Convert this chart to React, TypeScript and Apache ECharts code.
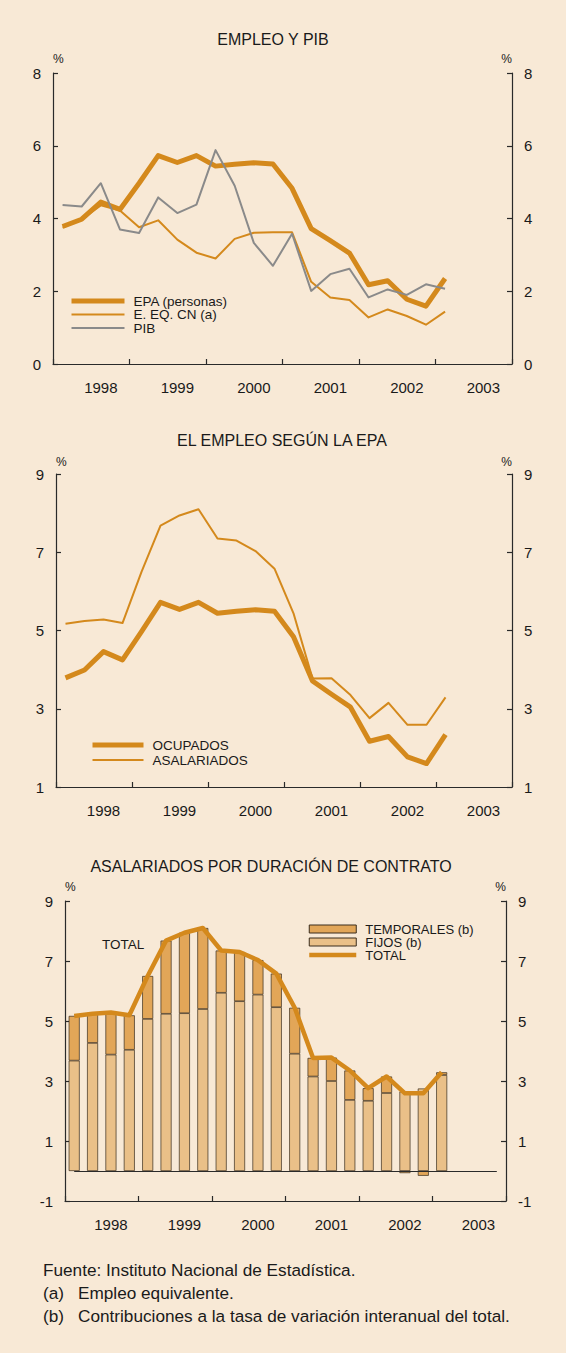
import React, { useEffect, useRef } from 'react';
import * as echarts from 'echarts';

// ---------- DATA ----------
const years = ['1998', '1999', '2000', '2001', '2002', '2003'];
const quarters = ['I', 'II', 'III', 'IV'];
const categories = years.flatMap((y) => quarters.map((q) => `${q} ${y}`));

// Chart 1: EMPLEO Y PIB (1998 I - 2003 I)
const epaPersonas = [3.78, 3.98, 4.45, 4.25, 4.97, 5.73, 5.54, 5.73, 5.44, 5.49, 5.53, 5.5, 4.83, 3.72, 3.39, 3.05, 2.18, 2.29, 1.78, 1.59, 2.35];
const eEqCn = [3.75, 3.98, 4.36, 4.22, 3.76, 3.95, 3.42, 3.06, 2.9, 3.44, 3.61, 3.62, 3.62, 2.26, 1.83, 1.76, 1.28, 1.5, 1.32, 1.08, 1.44];
const pib = [4.37, 4.33, 4.97, 3.7, 3.6, 4.58, 4.15, 4.38, 5.88, 4.9, 3.33, 2.7, 3.58, 2.01, 2.47, 2.62, 1.83, 2.05, 1.9, 2.19, 2.07];

// Chart 2: EL EMPLEO SEGÚN LA EPA
const ocupados = [3.79, 3.99, 4.46, 4.25, 4.97, 5.72, 5.54, 5.72, 5.44, 5.49, 5.53, 5.49, 4.84, 3.71, 3.37, 3.04, 2.17, 2.29, 1.77, 1.6, 2.34];
const asalariados = [5.17, 5.24, 5.28, 5.19, 6.5, 7.68, 7.94, 8.1, 7.35, 7.3, 7.03, 6.58, 5.44, 3.77, 3.78, 3.35, 2.76, 3.15, 2.59, 2.59, 3.29];

// Chart 3: ASALARIADOS POR DURACIÓN DE CONTRATO
const fijos = [3.68, 4.27, 3.88, 4.04, 5.07, 5.24, 5.26, 5.4, 5.94, 5.66, 5.88, 5.46, 3.91, 3.15, 3.0, 2.37, 2.34, 2.6, 2.65, 2.75, 3.2];
const temporales = [1.49, 0.97, 1.4, 1.15, 1.43, 2.44, 2.68, 2.7, 1.41, 1.64, 1.15, 1.12, 1.53, 0.62, 0.78, 0.98, 0.42, 0.55, -0.07, -0.16, 0.09];
const totalAsalariados = asalariados;

// ---------- STYLE ----------
const FONT = '"Liberation Sans", Arial, Helvetica, sans-serif';
const BG = '#F8E9D6';
const ORANGE = '#D4891C';
const GRAY = '#8A8A8A';
const TEMP_COLOR = '#E2A658';
const FIJO_COLOR = '#EAC088';
const AXIS = '#2a2a2a';
const TXT = '#1a1a1a';
const BAR_BORDER = '#3a2c1c';

function xAxisFor(gridIndex: number) {
  return {
    type: 'category',
    gridIndex,
    data: categories,
    boundaryGap: true,
    axisLine: { show: true, onZero: false, lineStyle: { color: AXIS, width: 1.2 } },
    axisTick: {
      show: true,
      inside: true,
      length: 5,
      interval: (i: number) => i % 4 === 0,
      lineStyle: { color: AXIS, width: 1.2 },
    },
    axisLabel: {
      interval: (i: number) => i % 4 === 2,
      formatter: (v: string) => v.split(' ')[1],
      fontSize: 15,
      color: TXT,
      fontFamily: FONT,
      margin: 16,
    },
    splitLine: { show: false },
  };
}

function yAxisFor(gridIndex: number, position: 'left' | 'right', min: number, max: number, nameGap: number) {
  return {
    type: 'value',
    gridIndex,
    position,
    min,
    max,
    interval: 2,
    axisLine: { show: true, onZero: false, lineStyle: { color: AXIS, width: 1.2 } },
    axisTick: { show: true, inside: true, length: 5, lineStyle: { color: AXIS, width: 1.2 } },
    axisLabel: { fontSize: 15, color: TXT, fontFamily: FONT, margin: 12 },
    splitLine: { show: false },
    name: '%',
    nameLocation: 'end',
    nameGap,
    nameTextStyle: { fontSize: 12, color: TXT, fontFamily: FONT, align: position === 'left' ? 'left' : 'right' },
  };
}

function lineSeries(name: string, data: number[], xi: number, yi: number, color: string, width: number, z: number) {
  return {
    type: 'line',
    name,
    data,
    xAxisIndex: xi,
    yAxisIndex: yi,
    symbol: 'none',
    showSymbol: false,
    color,
    z,
    lineStyle: { color, width, join: 'round' },
  };
}

// legend entry for a line series without the symbol dot
const lineItem = (name: string) => ({
  name,
  itemStyle: { opacity: 0, color: 'rgba(0,0,0,0)', borderWidth: 0 },
});

const legendText = { fontSize: 13.5, color: TXT, fontFamily: FONT, padding: [0, 0, 0, 4] };

const titleText = (text: string, x: number, y: number) => ({
  type: 'text',
  x,
  y,
  style: { text, fontSize: 16, fontFamily: FONT, fill: TXT, align: 'center', verticalAlign: 'middle' },
});

const noteText = (text: string, x: number, y: number) => ({
  type: 'text',
  x,
  y,
  style: { text, fontSize: 17.2, fontFamily: FONT, fill: TXT, verticalAlign: 'middle' },
});

const option: any = {
  animation: false,
  backgroundColor: BG,
  textStyle: { fontFamily: FONT },
  grid: [
    { left: 53, top: 73, width: 459, height: 291 },
    { left: 56, top: 474, width: 456, height: 313 },
    { left: 65, top: 901, width: 441, height: 300 },
  ],
  xAxis: [xAxisFor(0), xAxisFor(1), xAxisFor(2)],
  yAxis: [
    yAxisFor(0, 'left', 0, 8, 8),
    yAxisFor(0, 'right', 0, 8, 8),
    yAxisFor(1, 'left', 1, 9, 6),
    yAxisFor(1, 'right', 1, 9, 6),
    yAxisFor(2, 'left', -1, 9, 8),
    yAxisFor(2, 'right', -1, 9, 8),
  ],
  legend: [
    {
      data: [lineItem('EPA (personas)'), lineItem('E. EQ. CN (a)'), lineItem('PIB')],
      orient: 'vertical',
      left: 69,
      top: 294,
      padding: 0,
      itemWidth: 53,
      itemHeight: 10,
      itemGap: -0.5,
      selectedMode: false,
      lineStyle: { width: 'inherit' },
      textStyle: legendText,
    },
    {
      data: [lineItem('OCUPADOS'), lineItem('ASALARIADOS')],
      orient: 'vertical',
      left: 90,
      top: 738,
      padding: 0,
      itemWidth: 51,
      itemHeight: 10,
      itemGap: 1,
      selectedMode: false,
      lineStyle: { width: 'inherit' },
      textStyle: legendText,
    },
    {
      data: [
        { name: 'TEMPORALES (b)', icon: 'rect', itemStyle: { borderWidth: 1, borderColor: BAR_BORDER } },
        { name: 'FIJOS (b)', icon: 'rect', itemStyle: { borderWidth: 1, borderColor: BAR_BORDER } },
        lineItem('TOTAL'),
      ],
      orient: 'vertical',
      left: 307,
      top: 922.5,
      padding: 0,
      itemWidth: 47,
      itemHeight: 8,
      itemGap: 0,
      selectedMode: false,
      lineStyle: { width: 'inherit' },
      textStyle: { ...legendText, fontSize: 13 },
    },
  ],
  series: [
    lineSeries('E. EQ. CN (a)', eEqCn, 0, 0, ORANGE, 2, 2),
    lineSeries('EPA (personas)', epaPersonas, 0, 0, ORANGE, 5, 3),
    lineSeries('PIB', pib, 0, 0, GRAY, 2, 4),
    lineSeries('ASALARIADOS', asalariados, 1, 2, ORANGE, 2, 2),
    lineSeries('OCUPADOS', ocupados, 1, 2, ORANGE, 5, 3),
    {
      type: 'bar',
      name: 'FIJOS (b)',
      data: fijos,
      xAxisIndex: 2,
      yAxisIndex: 4,
      stack: 'contrato',
      barWidth: 11,
      color: FIJO_COLOR,
      itemStyle: { color: FIJO_COLOR, borderColor: BAR_BORDER, borderWidth: 0.7 },
      z: 2,
      markLine: {
        silent: true,
        symbol: 'none',
        label: { show: false },
        lineStyle: { color: AXIS, width: 1.2, type: 'solid' },
        data: [[{ xAxis: categories[0], yAxis: 0 }, { xAxis: categories[23], yAxis: 0 }]],
      },
    },
    {
      type: 'bar',
      name: 'TEMPORALES (b)',
      data: temporales,
      xAxisIndex: 2,
      yAxisIndex: 4,
      stack: 'contrato',
      barWidth: 11,
      color: TEMP_COLOR,
      itemStyle: { color: TEMP_COLOR, borderColor: BAR_BORDER, borderWidth: 0.7 },
      z: 2,
    },
    lineSeries('TOTAL', totalAsalariados, 2, 4, ORANGE, 4.5, 5),
  ],
  graphic: [
    titleText('EMPLEO Y PIB', 273, 39),
    titleText('EL EMPLEO SEGÚN LA EPA', 282, 440),
    titleText('ASALARIADOS POR DURACIÓN DE CONTRATO', 271, 866),
    { type: 'text', x: 102, y: 944, z: 10, style: { text: 'TOTAL', fontSize: 13.5, fontFamily: FONT, fill: TXT, verticalAlign: 'middle' } },
    noteText('Fuente: Instituto Nacional de Estadística.', 43, 1270),
    noteText('(a)', 43, 1293),
    noteText('Empleo equivalente.', 78, 1293),
    noteText('(b)', 43, 1316),
    noteText('Contribuciones a la tasa de variación interanual del total.', 78, 1316),
  ],
};

export default function App() {
  const ref = useRef<HTMLDivElement>(null);
  useEffect(() => {
    if (!ref.current) return;
    const chart = echarts.init(ref.current, null, { renderer: 'svg' });
    chart.setOption(option);
    return () => chart.dispose();
  }, []);
  return (
    <div style={{ position: 'absolute', left: 0, top: 0, width: 566, height: 1353, background: BG }}>
      <div ref={ref} style={{ width: 566, height: 1353 }} />
    </div>
  );
}
